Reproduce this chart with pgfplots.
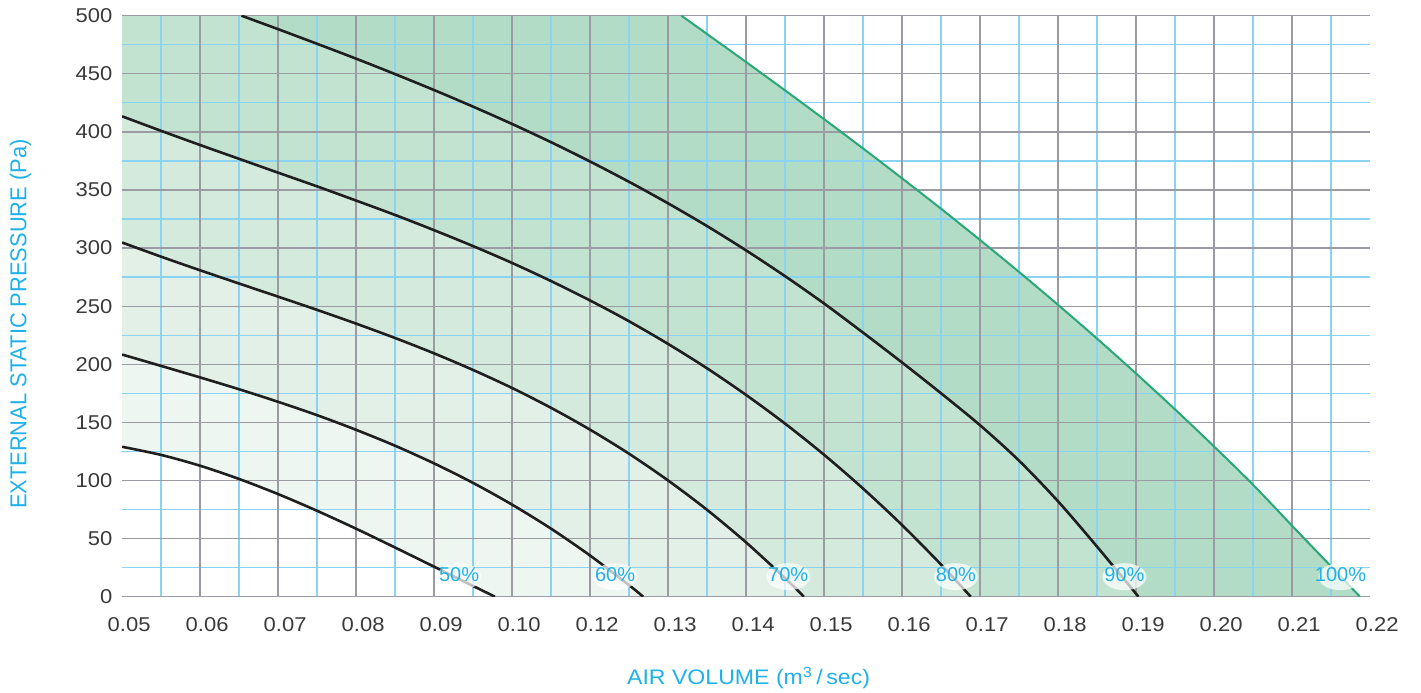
\documentclass[border=0pt]{standalone}
\usepackage{fontspec}
\setmainfont{Liberation Sans}[FakeStretch=1.1]
\newfontfamily\plainfont{Liberation Sans}
\newfontfamily\ylabfont{Liberation Sans}[FakeStretch=0.95]
\usepackage{pgfplots}
\usepackage{pgfplotstable}
\pgfplotsset{compat=1.18}
\usetikzlibrary{shapes.geometric}

\definecolor{gridgrey}{HTML}{9B9BA3}
\definecolor{gridblue}{HTML}{8AD3F2}
\definecolor{labcyan}{HTML}{1FB1E9}
\definecolor{tickgrey}{HTML}{3A3A3A}
\definecolor{edgegreen}{HTML}{27A875}
\definecolor{bandA}{HTML}{B3DCC7}
\definecolor{bandB}{HTML}{C3E3D1}
\definecolor{bandC}{HTML}{D3EADD}
\definecolor{bandD}{HTML}{E2F0E8}
\definecolor{bandE}{HTML}{EEF6F2}

% x is given in the chart's linear grid (tick labels follow the reference)
\pgfplotstableread{
x y
0.0500 129
0.0550 122.0
0.0600 112.7
0.0650 101.3
0.0700 88.3
0.0750 73.9
0.0800 58.5
0.0850 42.3
0.0900 25.8
0.0950 9.2
0.0978 0
}\curveL

\pgfplotstableread{
x y
0.0500 208.4
0.0550 198.6
0.0600 188.7
0.0650 178.5
0.0700 167.7
0.0750 156.2
0.0800 143.6
0.0850 129.9
0.0900 114.7
0.0950 97.9
0.1000 79.2
0.1050 58.5
0.1100 35.4
0.1150 9.9
0.1168 0
}\curveM

\pgfplotstableread{
x y
0.0500 304.8
0.0550 292.6
0.0600 280.9
0.0650 269.5
0.0700 258.2
0.0750 246.8
0.0800 235.0
0.0850 222.6
0.0900 209.4
0.0950 195.1
0.1000 179.6
0.1050 162.5
0.1100 143.7
0.1150 123.0
0.1200 100.0
0.1250 74.7
0.1300 46.7
0.1350 15.9
0.1374 0
}\curveN

\pgfplotstableread{
x y
0.0500 413.4
0.0550 400.9
0.0600 388.7
0.0650 376.8
0.0700 364.9
0.0750 353.1
0.0800 340.9
0.0850 328.5
0.0900 315.4
0.0950 301.7
0.1000 287.2
0.1050 271.6
0.1100 254.9
0.1150 237.0
0.1200 217.5
0.1250 196.5
0.1300 173.6
0.1350 148.9
0.1400 122.1
0.1450 93.0
0.1500 61.6
0.1550 27.6
0.1588 0
}\curveO

\pgfplotstableread{
x y
0.0653 500
0.0700 488.4
0.0750 475.8
0.0800 463.0
0.0850 449.7
0.0900 436.0
0.0950 421.7
0.1000 406.8
0.1050 391.1
0.1100 374.5
0.1150 357.0
0.1200 338.5
0.1250 318.9
0.1300 298.0
0.1350 275.8
0.1400 252.3
0.1450 227.2
0.1500 201.5
0.1550 175.0
0.1600 147.5
0.1650 117.0
0.1700 82.0
0.1750 43.0
0.1803 0
}\curveP

\pgfplotstableread{
x y
0.0500 500
0.0653 500
0.0700 488.4
0.0750 475.8
0.0800 463.0
0.0850 449.7
0.0900 436.0
0.0950 421.7
0.1000 406.8
0.1050 391.1
0.1100 374.5
0.1150 357.0
0.1200 338.5
0.1250 318.9
0.1300 298.0
0.1350 275.8
0.1400 252.3
0.1450 227.2
0.1500 201.5
0.1550 175.0
0.1600 147.5
0.1650 117.0
0.1700 82.0
0.1750 43.0
0.1803 0
}\fillP

\pgfplotstableread{
x y
0.1217 500
0.1250 484.2
0.1300 460.1
0.1350 435.7
0.1400 410.9
0.1450 385.7
0.1500 360.0
0.1550 333.8
0.1600 306.9
0.1650 279.4
0.1700 251.1
0.1750 222.0
0.1800 192.0
0.1850 161.1
0.1900 129.2
0.1950 96.3
0.2000 61.0
0.2050 26.0
0.2087 0
}\curveQ

\pgfplotstableread{
x y
0.0500 500
0.1217 500
0.1250 484.2
0.1300 460.1
0.1350 435.7
0.1400 410.9
0.1450 385.7
0.1500 360.0
0.1550 333.8
0.1600 306.9
0.1650 279.4
0.1700 251.1
0.1750 222.0
0.1800 192.0
0.1850 161.1
0.1900 129.2
0.1950 96.3
0.2000 61.0
0.2050 26.0
0.2087 0
}\fillQ

\begin{document}
\begin{tikzpicture}
\begin{axis}[
  set layers,
  scale only axis, width=624pt, height=290.5pt,
  xmin=0.05, xmax=0.21, ymin=0, ymax=500,
  axis line style={draw=none},
  major tick length=0pt, minor tick length=0pt,
  xtick={0.05,0.06,0.07,0.08,0.09,0.10,0.11,0.12,0.13,0.14,0.15,0.16,0.17,0.18,0.19,0.20,0.21},
  xticklabels={0.05,0.06,0.07,0.08,0.09,0.10,0.12,0.13,0.14,0.15,0.16,0.17,0.18,0.19,0.20,0.21,0.22},
  extra x ticks={0.06,0.07,0.08,0.09,0.10,0.11,0.12,0.13,0.14,0.15,0.16,0.17,0.18,0.19,0.20},
  extra x tick labels={},
  extra x tick style={grid=major},
  minor xtick={0.055,0.065,0.075,0.085,0.095,0.105,0.115,0.125,0.135,0.145,0.155,0.165,0.175,0.185,0.195,0.205},
  ytick={0,50,100,150,200,250,300,350,400,450,500},
  minor ytick={25,75,125,175,225,275,325,375,425,475},
  ymajorgrids=true, xminorgrids=true, yminorgrids=true,
  major grid style={color=gridgrey, line width=0.65pt},
  minor grid style={color=gridblue, line width=0.65pt},
  /pgf/number format/assume math mode=true,
  tick label style={font=\fontsize{10}{12}\selectfont, text=tickgrey},
  yticklabel style={inner sep=0pt, xshift=-4.7pt},
  xticklabel style={inner sep=0pt, yshift=-10pt, xshift=3.5pt},
  xlabel={AIR VOLUME (m\textsuperscript{3}\,/\,sec)},
  ylabel={EXTERNAL STATIC PRESSURE (Pa)},
  xlabel style={at={(axis description cs:0.502,-0.140)}, anchor=center,
    font=\fontsize{10.5}{12}\selectfont, text=labcyan},
  ylabel style={at={(axis description cs:-0.0815,0.469)}, anchor=center,
    font=\ylabfont\fontsize{11.5}{13}\selectfont, text=labcyan},
]
% filled bands (drawn beneath the grid)
\addplot[draw=none, fill=bandA, on layer=axis background] table {\fillQ} \closedcycle;
\addplot[draw=none, fill=bandB, on layer=axis background] table {\fillP} \closedcycle;
\addplot[draw=none, fill=bandC, on layer=axis background] table {\curveO} \closedcycle;
\addplot[draw=none, fill=bandD, on layer=axis background] table {\curveN} \closedcycle;
\addplot[draw=none, fill=bandE, on layer=axis background] table {\curveM} \closedcycle;
\addplot[draw=none, fill=white, on layer=axis background] table {\curveL} \closedcycle;

% curves
\addplot[black!88, line width=1.3pt, smooth] table {\curveL};
\addplot[black!88, line width=1.3pt, smooth] table {\curveM};
\addplot[black!88, line width=1.3pt, smooth] table {\curveN};
\addplot[black!88, line width=1.3pt, smooth] table {\curveO};
\addplot[black!88, line width=1.3pt, smooth] table {\curveP};
\addplot[edgegreen, line width=1pt, smooth] table {\curveQ};

% percentage labels
\foreach \xx/\txt in {0.0932/50, 0.1132/60, 0.1354/70, 0.1569/80, 0.1785/90, 0.2062/100}{
  \edef\temp{\noexpand\node[ellipse, fill=white, fill opacity=0.72, inner sep=0pt,
      minimum width=22pt, minimum height=13.5pt] at (axis cs:\xx,17.2) {};
    \noexpand\node[text=labcyan, inner sep=0pt, font=\noexpand\plainfont\noexpand\fontsize{10}{12}\noexpand\selectfont]
      at (axis cs:\xx,18.7) {\txt\noexpand\%};}
  \temp
}
\end{axis}
\pgfresetboundingbox
\path[use as bounding box] ([shift={(-61.05pt,-48.15pt)}]current axis.south west)
  rectangle ([shift={(25.45pt,7.85pt)}]current axis.north east);
\end{tikzpicture}
\end{document}
